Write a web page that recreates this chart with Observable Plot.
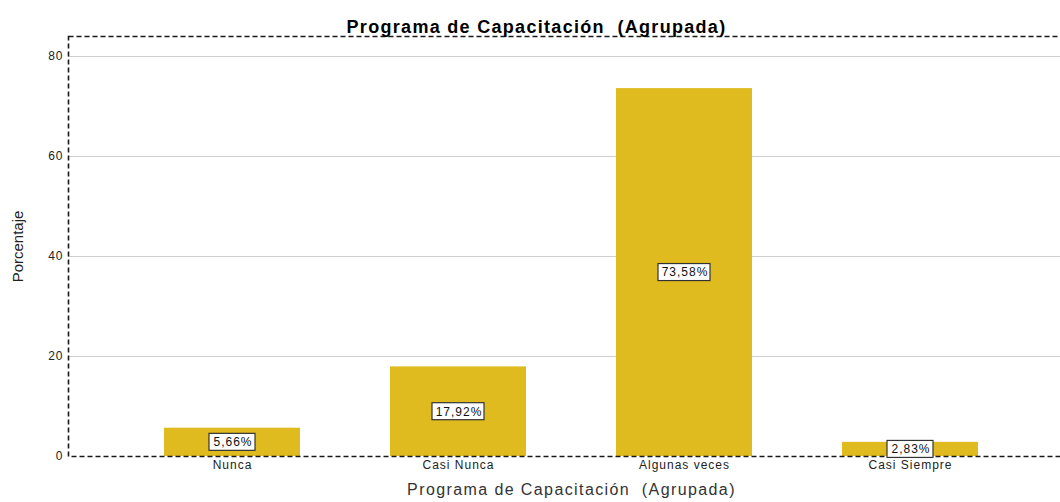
<!DOCTYPE html>
<html>
<head>
<meta charset="utf-8">
<script src="https://cdn.jsdelivr.net/npm/d3@7"></script>
<script src="https://cdn.jsdelivr.net/npm/@observablehq/plot@0.6"></script>
<style>
  html, body { margin: 0; padding: 0; background: #fff; }
  #chart svg { display: block; }
  #chart svg text { letter-spacing: 1px; }
  #chart svg g[font-size="18"] text { letter-spacing: 1.3px; }
  #chart svg g[font-size="16"] text { letter-spacing: 1.4px; }
  #chart svg g[font-size="15"] text { letter-spacing: 0px; }
</style>
</head>
<body>
<div id="chart"></div>
<script>
const categories = ["Nunca", "Casi Nunca", "Algunas veces", "Casi Siempre"];
const values = [5.66, 17.92, 73.58, 2.83];
const valueLabels = ["5,66%", "17,92%", "73,58%", "2,83%"];
const yTicks = [0, 20, 40, 60, 80];
const gridTicks = [20, 40, 60, 80];
const titleText = "Programa de Capacitación  (Agrupada)";
const xLabelText = "Programa de Capacitación  (Agrupada)";
const yLabelText = "Porcentaje";

const data = categories.map((c, i) => ({cat: c, value: values[i], label: valueLabels[i]}));

const font = "'Liberation Sans', Arial, sans-serif";
const barColor = "#e0bb1f";

const boxMark = (len, inset) => Plot.rect(data.filter(d => d.label.length === len), {
  x: "cat",
  y1: d => d.value / 2,
  y2: d => d.value / 2,
  insetLeft: inset,
  insetRight: inset,
  insetTop: -8.5,
  insetBottom: -8.5,
  fill: "#fff",
  stroke: "#333",
  strokeWidth: 1.2
});

const plot = Plot.plot({
  width: 1060,
  height: 502,
  marginLeft: 68,
  marginRight: 0,
  marginTop: 36,
  marginBottom: 46,
  style: {fontFamily: font, background: "#fff"},
  x: {domain: categories, range: [72, 1069], padding: 0.4, label: null},
  y: {domain: [0, 84], label: null},
  marks: [
    Plot.ruleY(gridTicks, {stroke: "#cfcfcf", strokeWidth: 1.2}),
    Plot.barY(data, {x: "cat", y: "value", fill: barColor}),
    Plot.frame({stroke: "#1a1a1a", strokeWidth: 1.6, strokeDasharray: "5,3", insetRight: -6}),
    boxMark(5, 45),
    boxMark(6, 42),
    Plot.text(data, {x: "cat", y: d => d.value / 2, text: "label", fontSize: 12, fill: "#111", dx: 0.5}),
    Plot.axisY(yTicks, {tickSize: 0, tickPadding: 5, fontSize: 12, fill: "#222", label: null}),
    Plot.axisX({tickSize: 0, tickPadding: 4, fontSize: 12, fill: "#222", label: null}),
    Plot.text([titleText], {frameAnchor: "top-left", dx: 468, dy: -16, text: d => d, textAnchor: "middle", fontSize: 18, fontWeight: "bold", fill: "#000"}),
    Plot.text([xLabelText], {frameAnchor: "bottom-left", dx: 503, dy: 38, text: d => d, textAnchor: "middle", fontSize: 16, fill: "#333"}),
    Plot.text([yLabelText], {frameAnchor: "left", dx: -50, dy: 0, rotate: -90, text: d => d, textAnchor: "middle", fontSize: 15, fill: "#222"})
  ]
});
document.getElementById("chart").appendChild(plot);
</script>
</body>
</html>
